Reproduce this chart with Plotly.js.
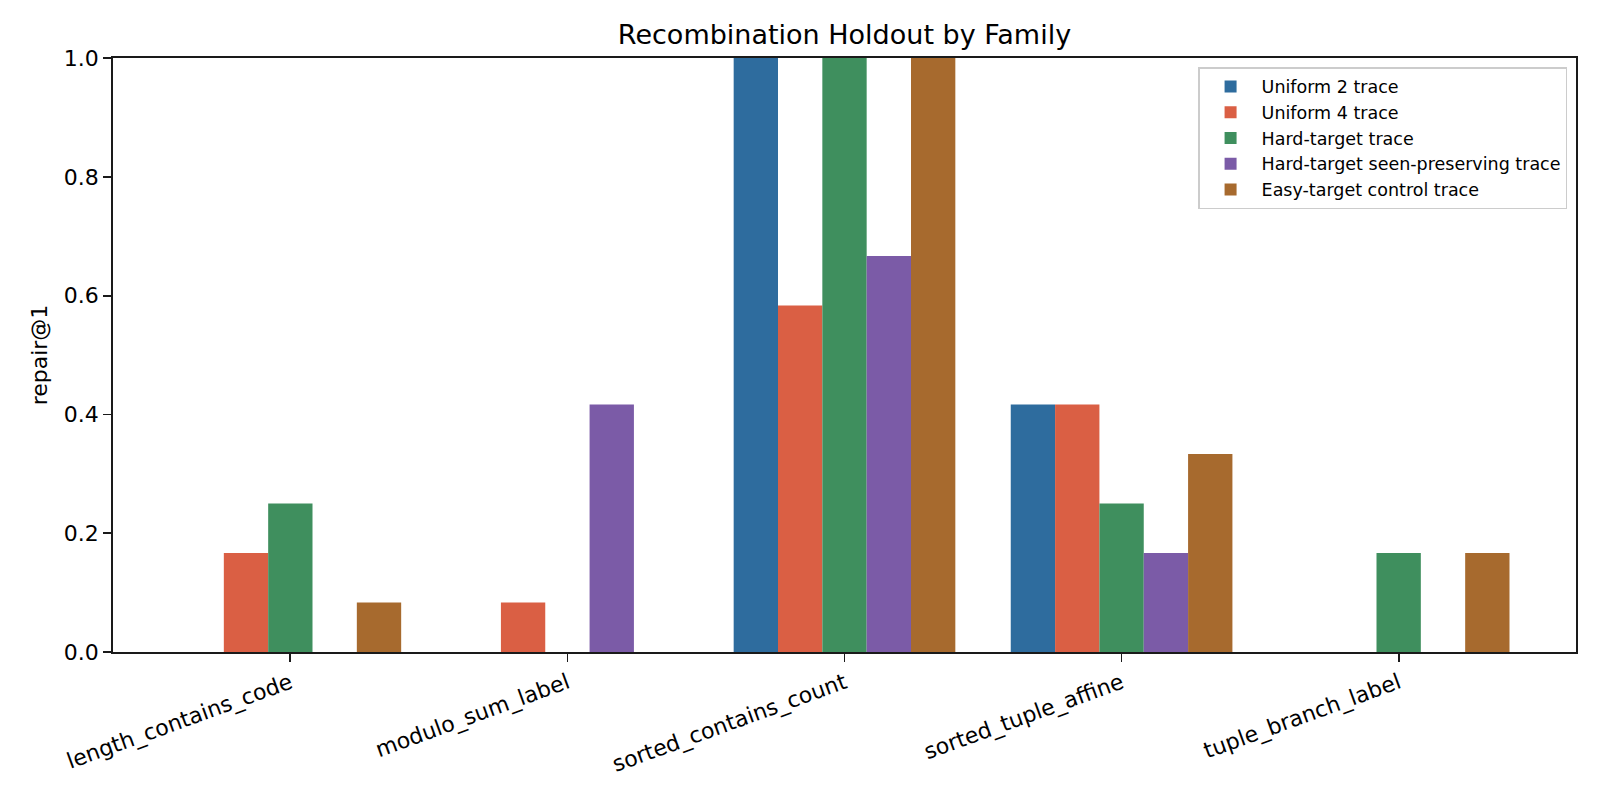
<!DOCTYPE html>
<html>
<head>
<meta charset="utf-8">
<script src="https://cdn.plot.ly/plotly-3.0.1.min.js"></script>
<style>
  body { margin: 0; background: #fff; }
  #chart { width: 1600px; height: 800px; }
</style>
</head>
<body>
<div id="chart"></div>
<script>
// families on the x axis
var families = [
    "length_contains_code",
    "modulo_sum_label",
    "sorted_contains_count",
    "sorted_tuple_affine",
    "tuple_branch_label",
];

// repair@1 per run
var uniform2 = [0, 0, 1.0, 0.4167, 0];
var uniform4 = [0.1667, 0.0833, 0.5833, 0.4167, 0];
var hardTarget = [0.25, 0, 1.0, 0.25, 0.1667];
var hardSeen = [0, 0.4167, 0.6667, 0.1667, 0];
var easyControl = [0.0833, 0, 1.0, 0.3333, 0.1667];

var seriesNames = [
    "Uniform 2 trace",
    "Uniform 4 trace",
    "Hard-target trace",
    "Hard-target seen-preserving trace",
    "Easy-target control trace",
];
var seriesValues = [uniform2, uniform4, hardTarget, hardSeen, easyControl];
var colors = ["#2e6c9e", "#da5f44", "#3f8f5e", "#7b5ba7", "#a76a2e"];

var traces = [];
for (let i = 0; i < seriesNames.length; i++) {
    traces.push({
        type: "bar",
        name: seriesNames[i],
        x: families.map((f, k) => k),
        y: seriesValues[i],
        marker: { color: colors[i], line: { width: 0 } },
        hoverinfo: "name+y",
    });
}

var axisFont = { family: "DejaVu Sans", size: 22, color: "#000" };

var layout = {
    width: 1600,
    height: 800,
    margin: { l: 113, r: 24, t: 58, b: 148 },
    paper_bgcolor: "#fff",
    plot_bgcolor: "#fff",
    font: { family: "DejaVu Sans", color: "#000" },
    barmode: "group",
    bargap: 0.2,
    bargroupgap: 0,
    title: {
        text: "Recombination Holdout by Family",
        font: { family: "DejaVu Sans", size: 27, color: "#000" },
        x: 0.5,
        xref: "paper",
        xanchor: "center",
        y: 1 - 35 / 800,
        yanchor: "middle",
    },
    xaxis: {
        range: [-0.64, 4.64],
        tickmode: "array",
        tickvals: families.map((f, k) => k),
        ticktext: families,
        tickangle: -20,
        tickfont: axisFont,
        ticks: "outside",
        ticklen: 8,
        tickwidth: 1.8,
        tickcolor: "#1a1a1a",
        showline: true,
        linecolor: "#1a1a1a",
        linewidth: 1.8,
        mirror: true,
        showgrid: false,
        zeroline: false,
    },
    yaxis: {
        range: [0, 1],
        tickvals: [0, 0.2, 0.4, 0.6, 0.8, 1.0],
        tickformat: ".1f",
        tickfont: axisFont,
        ticks: "outside",
        ticklen: 8,
        tickwidth: 1.8,
        tickcolor: "#1a1a1a",
        showline: true,
        linecolor: "#1a1a1a",
        linewidth: 1.8,
        mirror: true,
        showgrid: false,
        zeroline: false,
        title: { text: "repair@1", font: axisFont, standoff: 10 },
    },
    legend: {
        x: 0.9939,
        xanchor: "right",
        y: 0.9848,
        yanchor: "top",
        bgcolor: "rgba(255,255,255,0.8)",
        bordercolor: "#cccccc",
        borderwidth: 1.5,
        font: { family: "DejaVu Sans", size: 17.5, color: "#000" },
        itemwidth: 52,
    },
};

Plotly.newPlot("chart", traces, layout, { displayModeBar: false, staticPlot: true });
</script>
</body>
</html>
